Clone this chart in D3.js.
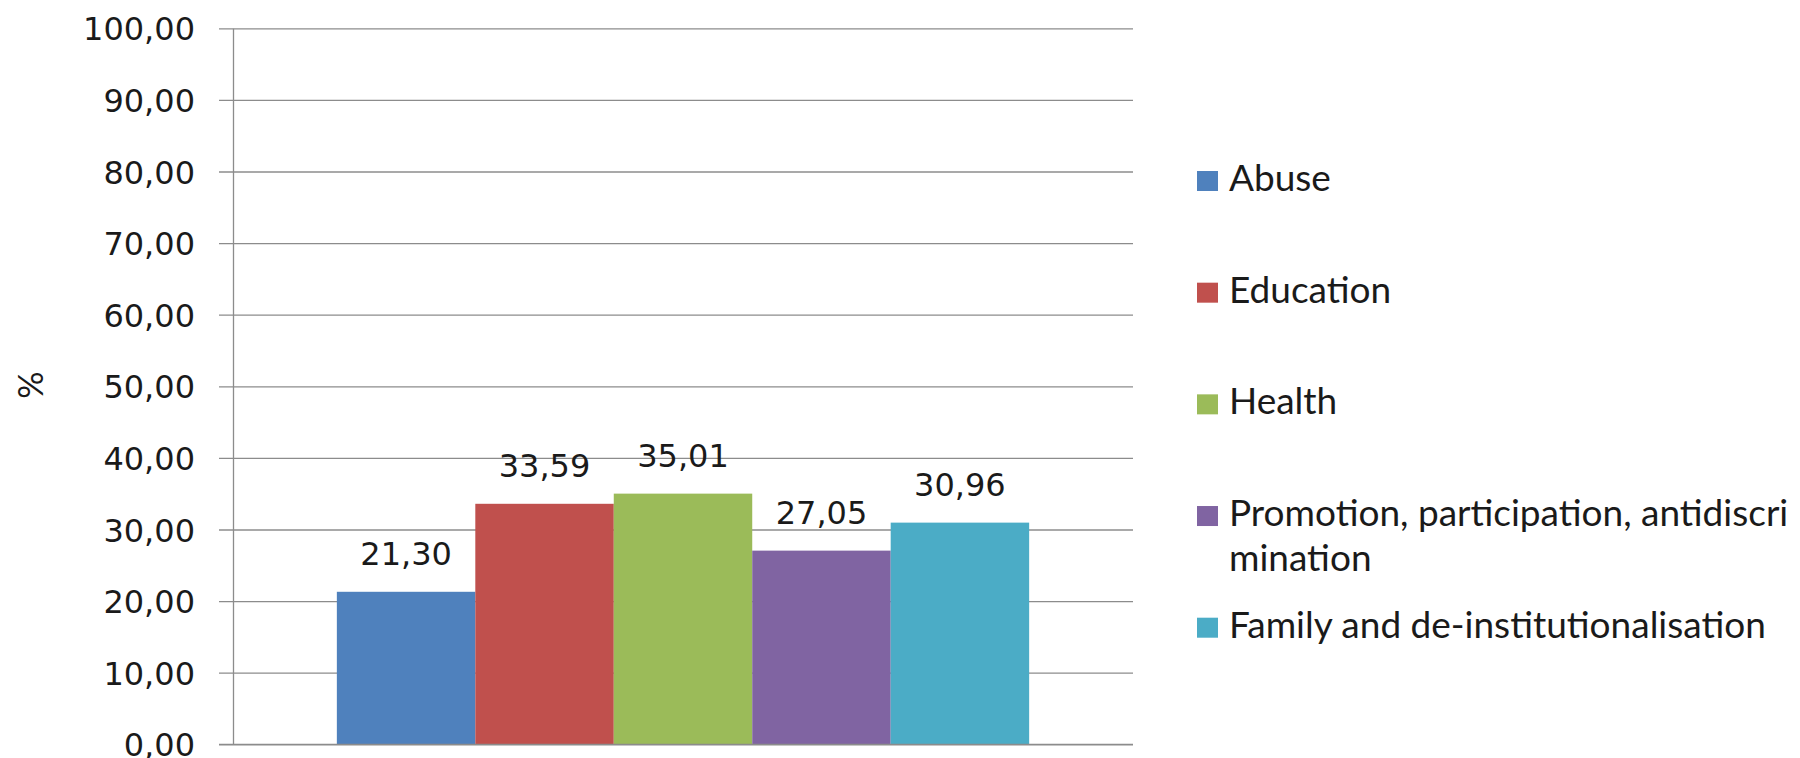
<!DOCTYPE html>
<html>
<head>
<meta charset="utf-8">
<script src="https://cdn.jsdelivr.net/npm/d3@7"></script>
<style>
  html, body { margin: 0; padding: 0; background: #fff; }
  svg { display: block; }
</style>
</head>
<body>
<svg id="chart" width="1800" height="758"></svg>
<script>
// ---- data ----
const categories = [""];
const seriesNames = ["Abuse", "Education", "Health", "Promotion, participation, antidiscrimination", "Family and de-institutionalisation"];
const legendLines = [["Abuse"], ["Education"], ["Health"], ["Promotion, participation, antidiscri", "mination"], ["Family and de-institutionalisation"]];
const values = [21.30, 33.59, 35.01, 27.05, 30.96];
const seriesColors = ["#4F81BD", "#C0504D", "#9BBB59", "#8064A2", "#4BACC6"];
const yTicks = [0, 10, 20, 30, 40, 50, 60, 70, 80, 90, 100];
const yLabel = "%";

// ---- layout ----
const svg = d3.select("#chart");
const plot = { left: 233, right: 1133, top: 28.3, bottom: 744.3 };

const locale = d3.formatLocale({ decimal: ",", thousands: ".", grouping: [3], currency: ["", ""] });
const fmt = locale.format(".2f");

const y = d3.scaleLinear().domain([0, 100]).range([plot.bottom, plot.top]);
const x0 = d3.scaleBand().domain(categories).range([plot.left, plot.right]).paddingInner(0).paddingOuter(0.15);
const x1 = d3.scaleBand().domain(seriesNames).range([0, x0.bandwidth()]).padding(0);

// gridlines (extend as tick marks past the axis)
svg.append("g")
  .attr("transform", `translate(${plot.right},0)`)
  .call(d3.axisRight(y).tickValues(yTicks).tickSize(-(plot.right - plot.left) - 14).tickFormat(""))
  .call(g => g.select(".domain").remove())
  .call(g => g.selectAll("line").attr("stroke", "#8c8c8c").attr("stroke-width", 1.3));

// y axis line + labels
const yAxis = svg.append("g")
  .attr("transform", `translate(${plot.left},0)`)
  .call(d3.axisLeft(y).tickValues(yTicks).tickSize(0).tickPadding(38).tickFormat(d => fmt(d)));
yAxis.select(".domain").attr("stroke", "#8c8c8c").attr("stroke-width", 1.3);
yAxis.selectAll("text")
  .attr("font-family", "'DejaVu Sans', Verdana, sans-serif")
  .attr("font-size", 32)
  .attr("fill", "#1a1a1a")
  .attr("dy", "0.36em");

// bars
const g = svg.append("g");
categories.forEach(cat => {
  const bars = g.selectAll(null)
    .data(values.map((v, i) => ({ name: seriesNames[i], value: v, color: seriesColors[i] })))
    .enter();
  bars.append("rect")
    .attr("x", d => x0(cat) + x1(d.name))
    .attr("y", d => y(d.value))
    .attr("width", x1.bandwidth())
    .attr("height", d => y(0) - y(d.value))
    .attr("fill", d => d.color);
  bars.append("text")
    .attr("x", d => x0(cat) + x1(d.name) + x1.bandwidth() / 2)
    .attr("y", d => y(d.value) - 27)
    .attr("text-anchor", "middle")
    .attr("font-family", "'DejaVu Sans', Verdana, sans-serif")
    .attr("font-size", 32)
    .attr("fill", "#1a1a1a")
    .text(d => fmt(d.value));
});

// bottom axis line
svg.append("line")
  .attr("x1", plot.left - 14).attr("x2", plot.right)
  .attr("y1", y(0)).attr("y2", y(0))
  .attr("stroke", "#8c8c8c").attr("stroke-width", 1.3);

// y label
svg.append("text")
  .attr("transform", `translate(43,385) rotate(-90)`)
  .attr("text-anchor", "middle")
  .attr("font-family", "Lato, 'Open Sans', sans-serif")
  .attr("font-size", 34)
  .attr("fill", "#1a1a1a")
  .text(yLabel);

// legend
const legendY = d3.scaleLinear().domain([0, seriesNames.length - 1]).range([171, 617.7]);
const leg = svg.append("g");
seriesNames.forEach((name, i) => {
  const top = legendY(i);
  leg.append("rect")
    .attr("x", 1197).attr("y", top)
    .attr("width", 21).attr("height", 20)
    .attr("fill", seriesColors[i]);
  const t = leg.append("text")
    .attr("x", 1229).attr("y", top + 20)
    .attr("font-family", "Lato, 'Open Sans', sans-serif")
    .attr("font-size", 37)
    .attr("fill", "#1a1a1a");
  legendLines[i].forEach((line, j) => {
    t.append("tspan").attr("x", 1229).attr("dy", j === 0 ? 0 : 45).text(line);
  });
});
</script>
</body>
</html>
